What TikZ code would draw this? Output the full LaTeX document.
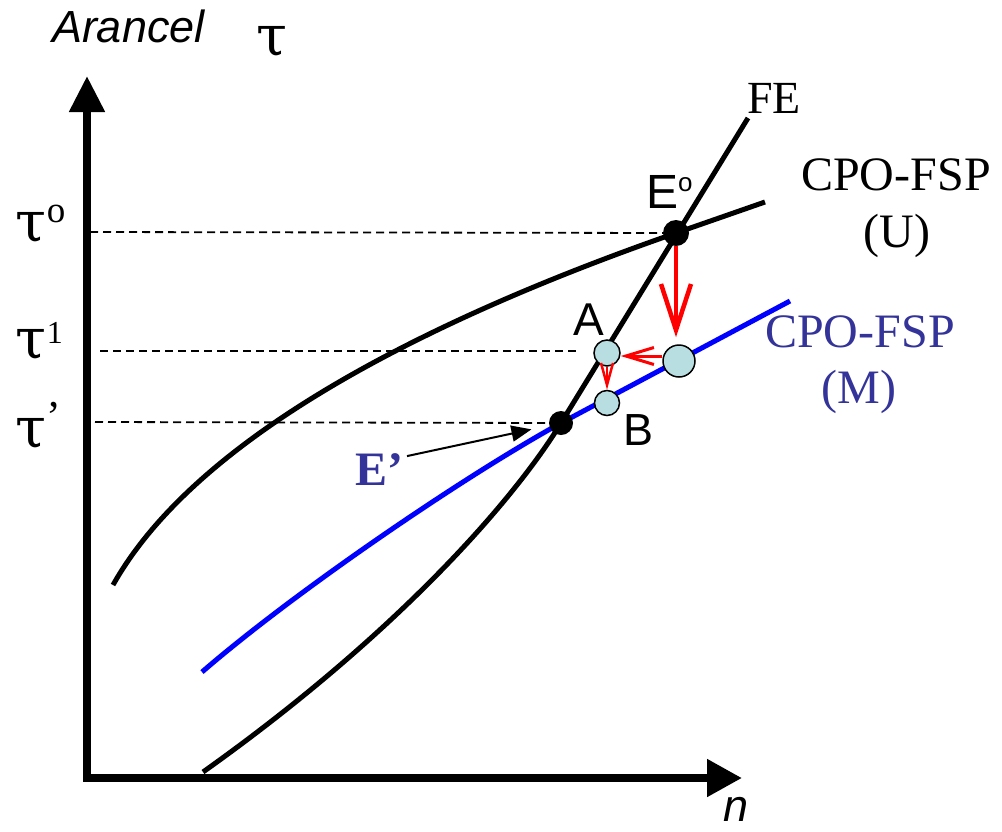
\documentclass[tikz,border=0pt]{standalone}
\usepackage{fontspec}
\setmainfont{Liberation Serif}
\newfontfamily\arial{Liberation Sans}
\newfontfamily\greek{DejaVu Serif}
\usetikzlibrary{arrows.meta}
\definecolor{lblue}{RGB}{185,222,225}
\definecolor{dblue}{RGB}{51,51,153}
\definecolor{pblue}{RGB}{0,0,255}
\newcommand\fsz[1]{\fontsize{#1}{#1}\selectfont}
\newcommand\tauglyph{{\greek\fsz{56}τ}}
\begin{document}
\begin{tikzpicture}[x=1pt,y=-1pt,
  lbl/.style={inner sep=0pt, outer sep=0pt, anchor=base west},
  clbl/.style={inner sep=0pt, outer sep=0pt, anchor=base},
  curve/.style={line width=5pt, line join=round, line cap=butt},
  guide/.style={line width=1.8pt, dash pattern=on 8pt off 5pt},
  dot/.style={circle, fill=black, inner sep=0pt, minimum size=#1},
  dot/.default=26pt,
  pnt/.style={circle, draw=black, line width=1.5pt, fill=lblue, inner sep=0pt, minimum size=#1},
  pnt/.default=26pt,
  move/.style={red, line width=#1},
  move/.default=3pt]
\useasboundingbox (0,0) rectangle (1002,831);

% axes
\draw[line width=8pt, line join=miter,
  {Triangle[length=36pt,width=34pt]}-{Triangle[length=35pt,width=36pt]}]
  (87,76) -- (87,778) -- (742,778);

% curves
\draw[curve] (113,585) .. controls (200,430) and (446,313) .. (676,233) -- (765,202);
\draw[curve, pblue] (202,672) .. controls (292,594) and (461,478) .. (561,423) -- (790,301);
\draw[curve] (203,772) .. controls (400,632) and (516,497) .. (561,423) -- (748,118);

% points
\node[dot=26pt] (Eo) at (676,233) {};
\node[dot=24pt] (Ed) at (561,423) {};
\node[pnt=26pt] (A) at (607,353) {};
\node[pnt=25pt] (B) at (607,403) {};
\node[pnt=32pt] (big) at (679,361) {};

% guide line ends
\coordinate (g0) at (90,232);
\coordinate (g1) at (100,351);
\coordinate (g1e) at (578,351);
\coordinate (g2) at (95,422);
\draw[guide] (g0) -- (Eo);
\draw[guide] (g1) -- (g1e);
\draw[guide] (g2) -- (Ed);

% red moves
\draw[move=4.5pt, -{Straight Barb[length=46pt,width=30pt]}, shorten >=7pt]
  (Eo.south) -- (Eo.south |- big.north);
\draw[move=3pt, -{Straight Barb[length=28pt,width=17pt]}]
  (big.west |- 0,356) -- (A.east |- 0,356);
\draw[move=2.5pt, -{Straight Barb[length=22pt,width=12pt]}]
  (A.south) -- (B.north);

% labels
\node[lbl, font=\arial\itshape\fsz{45}] (arancel) at (52,42) {Arancel};
\node[lbl] (tau) at (256,55) {\tauglyph};
\node[lbl, font=\fsz{50}] (t0) at (16,241) {\tauglyph\raisebox{19pt}{\fsz{37}o}};
\node[lbl, font=\fsz{50}] (t1) at (16,358) {\tauglyph\raisebox{15pt}{\fsz{32}1}};
\node[lbl, font=\fsz{50}] (t2) at (16,447) {\tauglyph\raisebox{16pt}{\fsz{44}’}};
\node[lbl, font=\fsz{46}] (fe) at (747,113) {FE};
\node[lbl, font=\arial\fsz{48}] (eol) at (646,208) {E\raisebox{17pt}{\fsz{26}o}};
\node[clbl, font=\fsz{48}] (u1) at (896,190) {CPO-FSP};
\node[clbl, font=\fsz{48}] (u2) at (897,247) {(U)};
\node[clbl, font=\fsz{48}, text=dblue] (m1) at (860,347) {CPO-FSP};
\node[clbl, font=\fsz{48}, text=dblue] (m2) at (859,403) {(M)};
\node[lbl, font=\arial\fsz{46}] (al) at (573,335) {A};
\node[lbl, font=\arial\fsz{45}] (bl) at (623,445) {B};
\node[lbl, font=\bfseries\fsz{48}, text=dblue] (Eplab) at (355,485) {E’};
\node[lbl, font=\arial\itshape\fsz{45}] (nl) at (723,821) {n};

\draw[line width=2pt, -{Triangle[length=20pt,width=16pt]}, shorten >=18pt]
  ([xshift=4pt,yshift=-3pt]Eplab.north east) -- (Ed);
\end{tikzpicture}
\end{document}
